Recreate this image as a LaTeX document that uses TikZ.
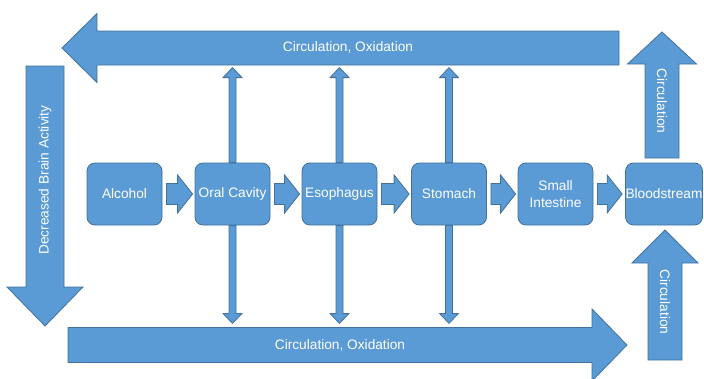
\documentclass[tikz,border=0pt]{standalone}
\usepackage{fontspec}
\setmainfont{Liberation Sans}
\usetikzlibrary{calc,backgrounds}
\definecolor{bfill}{HTML}{5B9BD5}
\definecolor{bline}{HTML}{41719C}
\tikzset{
  blk/.style={fill=bfill,draw=bline,line width=0.8pt,line join=miter},
  box/.style={fill=bfill,draw=bline,line width=0.8pt,rounded corners=8pt,minimum width=75pt,minimum height=62pt,inner sep=0pt,text=white,font=\fontsize{13.7}{17}\selectfont,align=center},
  lbl/.style={text=white,font=\fontsize{13.7}{17}\selectfont,inner sep=0pt}
}
% horizontal block arrow: start, tip, body half-width, head half-width, head length
\newcommand\harr[5]{\draw[blk] let \p1=(#1),\p2=(#2),\n1={sign(\x2-\x1)},\n2={\x2-\n1*#5} in
  (\x1,{\y1+#3}) -- (\n2,{\y1+#3}) -- (\n2,{\y1+#4}) -- (\x2,\y1)
  -- (\n2,{\y1-#4}) -- (\n2,{\y1-#3}) -- (\x1,{\y1-#3}) -- cycle;}
% vertical block arrow
\newcommand\varr[5]{\draw[blk] let \p1=(#1),\p2=(#2),\n1={sign(\y2-\y1)},\n2={\y2-\n1*#5} in
  ({\x1+#3},\y1) -- ({\x1+#3},\n2) -- ({\x1+#4},\n2) -- (\x1,\y2)
  -- ({\x1-#4},\n2) -- ({\x1-#3},\n2) -- ({\x1-#3},\y1) -- cycle;}
\begin{document}
\begin{tikzpicture}[x=1pt,y=-1pt]
\useasboundingbox (0,0) rectangle (704,378);
\clip (0,0) rectangle (704,378);
% boxes
\node[box] (alc) at (124.5,194) {Alcohol};
\node[box] (oral) at (232.5,194) {Oral Cavity};
\node[box] (eso) at (339.5,194) {Esophagus};
\node[box] (sto) at (449,194) {Stomach};
\node[box] (si) at (555.5,194) {Small\\Intestine};
\node[box,minimum width=76pt] (bl) at (664,194) {Bloodstream};
% big arrows
\coordinate (topS) at (619,48);  \coordinate (topE) at (62,48);
\coordinate (botS) at (68,345);  \coordinate (botE) at (627,345);
\coordinate (lefS) at (45,66);   \coordinate (lefE) at (45,326);
\coordinate (ruS)  at (662,158); \coordinate (ruE)  at (662,32);
\coordinate (rdS)  at (665,360); \coordinate (rdE)  at (665,230);
\harr{topS}{topE}{17pt}{34.5pt}{35pt}
\harr{botS}{botE}{17.5pt}{36pt}{35pt}
\varr{lefS}{lefE}{19pt}{38pt}{39pt}
\varr{ruS}{ruE}{17pt}{34.5pt}{32pt}
\varr{rdS}{rdE}{17pt}{33pt}{33pt}
\node[lbl] (ttop) at (348,47) {Circulation, Oxidation};
\node[lbl] (tbot) at (340,345) {Circulation, Oxidation};
\node[lbl,rotate=90] (tlef) at (45,180) {Decreased Brain Activity};
\node[lbl,rotate=-90] (tru) at (662,101) {Circulation};
\node[lbl,rotate=-90] (trd) at (665,302) {Circulation};
% vertical double arrows (behind the boxes)
\begin{pgfonlayer}{background}
\foreach \b in {oral,eso,sto}{
  \varr{\b.north}{$(\b.north)+(0,-95)$}{3.5pt}{9.5pt}{10pt}
  \varr{\b.south}{$(\b.south)+(0,98)$}{3.5pt}{9.5pt}{10pt}
}
\end{pgfonlayer}
% small arrows between boxes
\harr{$(alc.east)+(4,0)$}{$(oral.west)+(-2,0)$}{10.5pt}{19pt}{15pt}
\harr{$(oral.east)+(4,0)$}{$(eso.west)+(-2,0)$}{10.5pt}{19pt}{15pt}
\harr{$(eso.east)+(4,0)$}{$(sto.west)+(-2,0)$}{10.5pt}{19pt}{15pt}
\harr{$(sto.east)+(4,0)$}{$(si.west)+(-2,0)$}{10.5pt}{19pt}{15pt}
\harr{$(si.east)+(4,0)$}{$(bl.west)+(-3,0)$}{10.5pt}{19pt}{15pt}
\end{tikzpicture}
\end{document}
